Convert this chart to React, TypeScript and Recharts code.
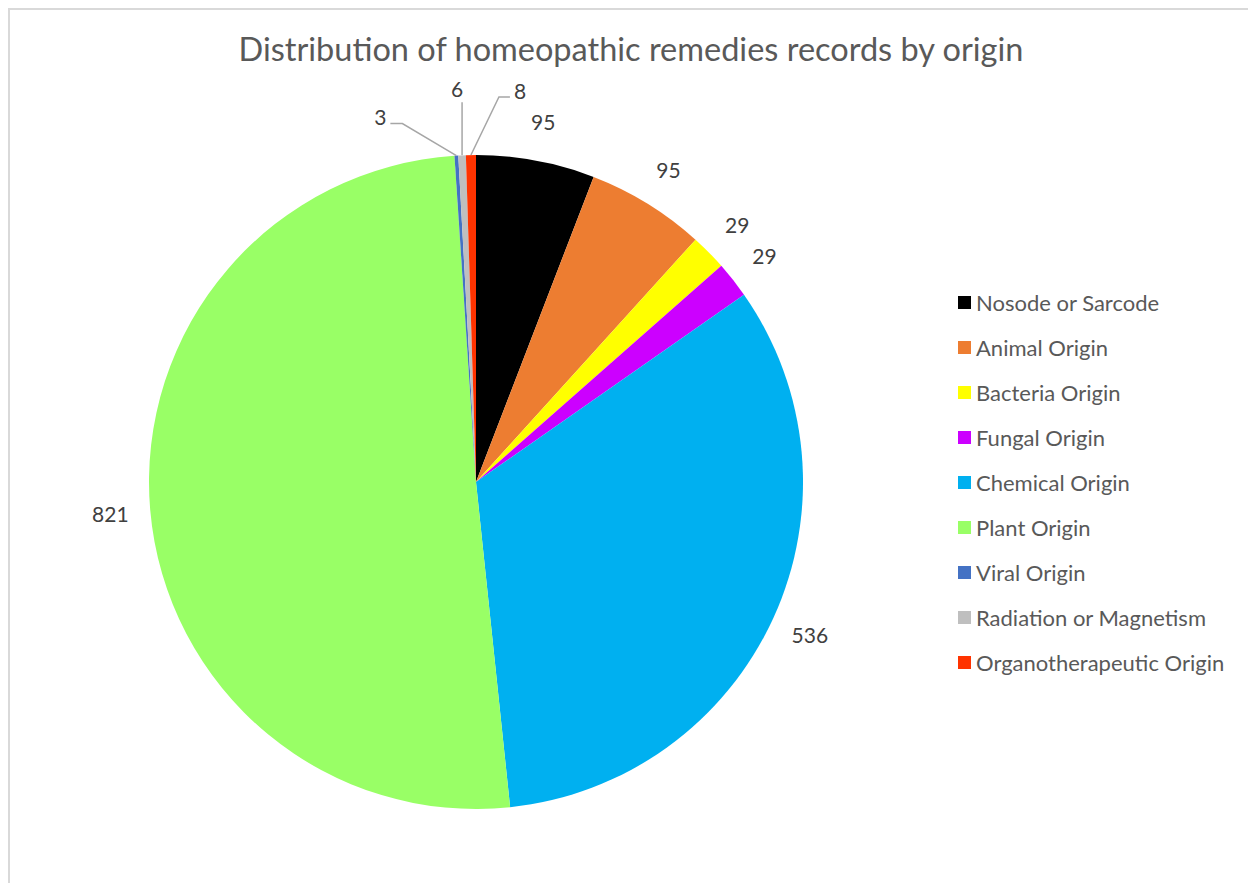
import React from 'react';
import { PieChart, Pie, Cell, Legend } from 'recharts';

const categories = [
  'Nosode or Sarcode',
  'Animal Origin',
  'Bacteria Origin',
  'Fungal Origin',
  'Chemical Origin',
  'Plant Origin',
  'Viral Origin',
  'Radiation or Magnetism',
  'Organotherapeutic Origin',
];
const records = [95, 95, 29, 29, 536, 821, 3, 6, 8];
const colors = ['#000000', '#ED7D31', '#FFFF00', '#CC00FF', '#00B0F0', '#99FF66', '#4472C4', '#BFBFBF', '#FF3300'];

const data = categories.map((name, i) => ({ name, value: records[i] }));

// leader line bends for the tiny slices near the top (offsets from the slice edge)
const leaders: Record<number, { bend: [number, number]; tail: number; anchor: 'start' | 'end' | 'middle' }> = {
  6: { bend: [-54, -32], tail: -12, anchor: 'end' },
  7: { bend: [0, -53], tail: 0, anchor: 'middle' },
  8: { bend: [28, -58], tail: 11, anchor: 'start' },
};

const RAD = Math.PI / 180;
const FONT = 'Lato, "Open Sans", sans-serif';

const renderLabel = (props: any) => {
  const { cx, cy, midAngle, outerRadius, value, index } = props;
  const cos = Math.cos(-midAngle * RAD);
  const sin = Math.sin(-midAngle * RAD);
  const lead = leaders[index];
  if (lead) {
    const ex = cx + outerRadius * cos;
    const ey = cy + outerRadius * sin;
    const bx = ex + lead.bend[0];
    const by = ey + lead.bend[1];
    const tx = bx + lead.tail;
    const textX = lead.anchor === 'end' ? tx - 4 : lead.anchor === 'start' ? tx + 4 : tx - 5;
    const textY = lead.anchor === 'middle' ? by - 14 : by - 7;
    return (
      <g>
        <polyline points={`${ex},${ey} ${bx},${by} ${tx},${by}`} fill="none" stroke="#A6A6A6" strokeWidth={1.5} />
        <text x={textX} y={textY} textAnchor={lead.anchor} dominantBaseline="central" fill="#404040" fontSize={21} fontFamily={FONT}>
          {value}
        </text>
      </g>
    );
  }
  const r = outerRadius + 40;
  return (
    <text
      x={cx + r * cos}
      y={cy + r * sin}
      textAnchor="middle"
      dominantBaseline="central"
      fill="#404040"
      fontSize={21}
      fontFamily={FONT}
    >
      {value}
    </text>
  );
};

const renderLegend = () => (
  <div style={{ fontFamily: FONT, fontSize: 22, color: '#595959' }}>
    {categories.map((name, i) => (
      <div key={name} style={{ display: 'flex', alignItems: 'center', height: 45 }}>
        <span style={{ width: 13, height: 13, background: colors[i], marginRight: 5, display: 'inline-block' }} />
        <span>{name}</span>
      </div>
    ))}
  </div>
);

export default function App() {
  return (
    <div
      style={{
        position: 'relative',
        width: 1246,
        height: 881,
        border: '2px solid #D9D9D9',
        boxSizing: 'border-box',
        background: '#fff',
      }}
    >
      <div
        style={{
          position: 'absolute',
          top: 19,
          left: 0,
          width: '100%',
          textAlign: 'center',
          fontFamily: FONT,
          fontSize: 32.5,
          color: '#595959',
        }}
      >
        Distribution of homeopathic remedies records by origin
      </div>
      <PieChart width={1242} height={877} margin={{ top: 0, right: 0, bottom: 0, left: 0 }}>
        <Pie
          data={data}
          dataKey="value"
          nameKey="name"
          cx={466}
          cy={472}
          outerRadius={327}
          startAngle={90}
          endAngle={-270}
          stroke="none"
          label={renderLabel}
          labelLine={false}
          isAnimationActive={false}
        >
          {data.map((d, i) => (
            <Cell key={d.name} fill={colors[i]} />
          ))}
        </Pie>
        <Legend
          content={renderLegend}
          layout="vertical"
          wrapperStyle={{ position: 'absolute', left: 948, top: 270, width: 300 }}
        />
      </PieChart>
    </div>
  );
}
